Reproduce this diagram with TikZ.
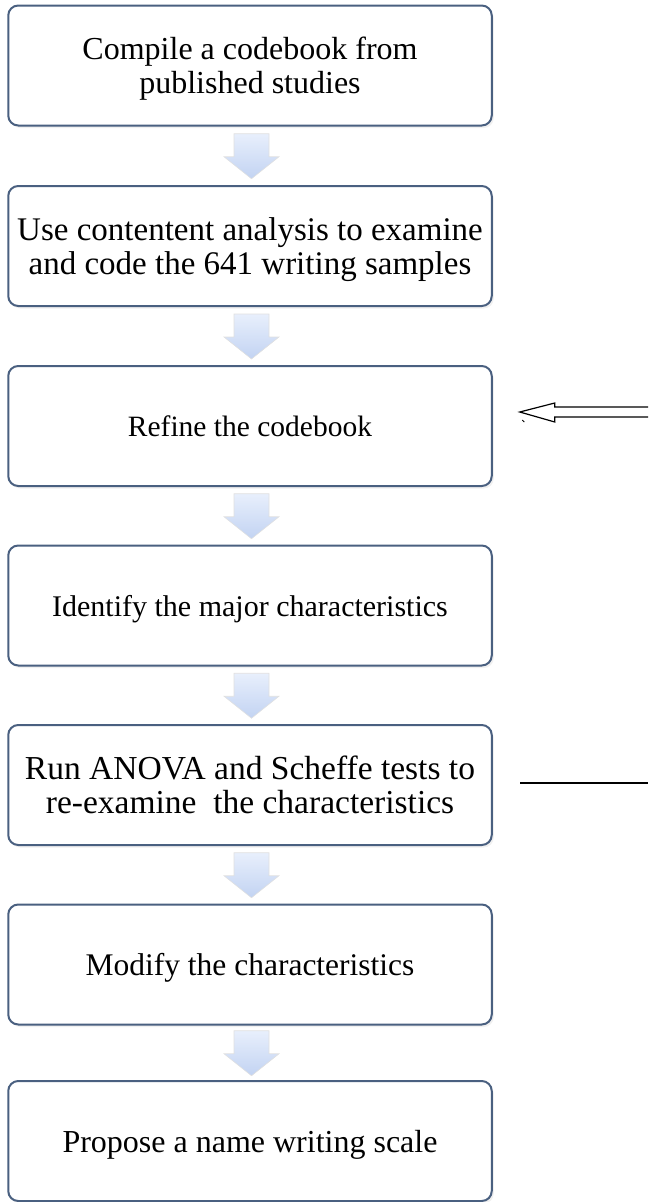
\documentclass[tikz,border=0pt]{standalone}
\usepackage{fontspec}
\setmainfont{Liberation Serif}
\usetikzlibrary{calc,shadows}
\definecolor{boxline}{HTML}{4A6080}
\definecolor{arrtop}{HTML}{E8EFFC}
\definecolor{arrbot}{HTML}{C2D3F2}
\begin{document}
\begin{tikzpicture}[x=1pt,y=-1pt,
  stage/.style={draw=boxline, line width=2pt, rounded corners=10pt, fill=white,
    minimum width=483.5pt, minimum height=120pt, align=center,
    inner ysep=0pt, text depth=-4pt,
    font=\fontsize{#1}{34}\selectfont,
    drop shadow={shadow xshift=2pt, shadow yshift=-2.5pt, opacity=0.12}},
  stage/.default=31,
  blockarrow/.style={top color=arrtop, bottom color=arrbot, draw=black!12, line width=0.6pt, line join=miter},
  outline/.style={draw=black, line width=1.2pt, line join=miter}]
\useasboundingbox (0,0) rectangle (648,1202);
\node[stage=32] (b1) at (250,65.5) {Compile a codebook from\\published studies};
\node[stage=33] (b2) at (250,246) {Use contentent analysis to examine\\and code the 641 writing samples};
\node[stage=29.5] (b3) at (250,426) {Refine the codebook};
\node[stage=30] (b4) at (250,605.5) {Identify the major characteristics};
\node[stage=33.5] (b5) at (250,785) {Run ANOVA and Scheffe tests to\\re-examine\ \ the characteristics};
\node[stage=31.5] (b6) at (250,964.5) {Modify the characteristics};
\node[stage=32] (b7) at (250,1141) {Propose a name writing scale};
\foreach \a/\b in {b1/b2,b2/b3,b3/b4,b4/b5,b5/b6,b6/b7} {
  \coordinate (m) at ($(\a.south)!0.5!(\b.north)$);
  \draw[blockarrow] ([shift={(m)}]-16,-22) -- ([shift={(m)}]19,-22) -- ([shift={(m)}]19,1)
    -- ([shift={(m)}]29,1) -- ([shift={(m)}]1.5,23) -- ([shift={(m)}]-26,1)
    -- ([shift={(m)}]-16,1) -- cycle;
}
% hollow arrow pointing at box 3
\coordinate (t) at ($(b3.east)+(27,-14)$);
\coordinate (te) at (648,412);
\draw[outline] ($(te)+(0,-5)$) -- ($(t)+(35,-5)$) -- ($(t)+(35,-9)$) -- (t)
  -- ($(t)+(35,10)$) -- ($(t)+(35,5)$) -- ($(te)+(0,5)$);
\draw[line width=1pt] ($(t)+(2.5,8)$) -- ($(t)+(4.5,10)$);
% plain line at box 5
\coordinate (ls) at ($(b5.east)+(27.5,-2)$);
\coordinate (le) at (648,783);
\draw[line width=1.5pt] (ls) -- (le);
\end{tikzpicture}
\end{document}
